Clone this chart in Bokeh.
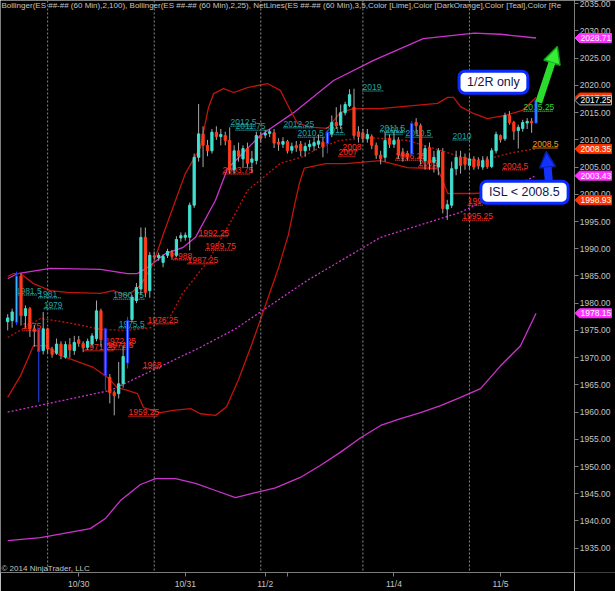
from bokeh.plotting import figure
from bokeh.layouts import row
from bokeh.models import (Range1d, FixedTicker, NumeralTickFormatter, Span, Label,
                          Arrow, NormalHead, ColumnDataSource)
from bokeh.embed import file_html
from bokeh.resources import INLINE
from bokeh.core.properties import value

FONT = "Liberation Sans"

# ES 60-minute bars, index 0..119 (oldest to newest)
bar_open = [1976.6, 1976.8, 1976.5, 1985.0, 1977.7, 1979.0, 1975.3, 1975.2, 1971.3, 1975.3,
            1971.6, 1970.8, 1972.5, 1970.1, 1972.4, 1971.3, 1973.3, 1972.6, 1971.9, 1972.5,
            1973.5, 1978.6, 1975.3, 1966.4, 1963.6, 1963.4, 1965.2, 1969.0, 1977.0, 1980.5,
            1982.6, 1992.1, 1982.3, 1988.7, 1988.4, 1987.5, 1988.8, 1989.3, 1988.8, 1992.0,
            1992.1, 1992.1, 1998.0, 2006.8, 2011.1, 2009.0, 2008.0, 2011.4, 2010.6, 2010.8,
            2009.9, 2004.5, 2008.0, 2006.5, 2008.4, 2005.9, 2006.2, 2010.8, 2010.9, 2011.2,
            2011.3, 2009.6, 2009.2, 2009.7, 2008.1, 2009.0, 2009.2, 2008.0, 2008.8, 2008.9,
            2009.2, 2009.6, 2009.3, 2011.1, 2013.2, 2012.7, 2015.0, 2016.3, 2016.0, 2011.5,
            2011.3, 2010.2, 2010.6, 2009.0, 2007.2, 2006.8, 2010.3, 2009.2, 2010.0, 2007.8,
            2007.5, 2007.4, 2013.2, 2012.6, 2006.2, 2008.6, 2005.9, 2005.0, 2007.8, 1997.3,
            1998.0, 2004.7, 2006.8, 2006.8, 2005.3, 2006.5, 2006.2, 2005.0, 2006.4, 2005.1,
            2008.0, 2010.8, 2010.2, 2014.5, 2013.2, 2011.7, 2012.1, 2013.1, 2013.4, 2013.1]
bar_high = [1978.0, 1979.0, 1985.8, 1985.5, 1979.6, 1979.3, 1976.0, 1975.5, 1978.4, 1975.5,
            1972.0, 1973.5, 1973.0, 1973.0, 1973.6, 1974.0, 1974.0, 1973.0, 1973.5, 1974.5,
            1980.5, 1979.0, 1975.5, 1967.0, 1964.0, 1969.2, 1972.2, 1977.5, 1981.5, 1983.7,
            1993.9, 1993.9, 1989.4, 1989.5, 1989.3, 1989.0, 1990.0, 1989.8, 1992.3, 1993.0,
            1993.0, 1998.5, 2007.5, 2016.6, 2012.5, 2010.0, 2012.0, 2012.5, 2012.0, 2011.5,
            2012.3, 2009.0, 2009.5, 2009.0, 2009.5, 2008.0, 2011.5, 2011.5, 2011.8, 2012.0,
            2012.0, 2010.3, 2010.5, 2010.0, 2009.5, 2009.8, 2009.8, 2009.5, 2010.0, 2010.5,
            2011.0, 2010.5, 2011.8, 2014.5, 2016.0, 2016.5, 2017.0, 2019.3, 2019.4, 2012.5,
            2012.0, 2012.0, 2011.0, 2009.5, 2008.0, 2011.5, 2011.0, 2011.5, 2010.5, 2008.5,
            2008.0, 2013.5, 2014.0, 2013.0, 2009.0, 2009.5, 2008.0, 2008.5, 2008.5, 1999.0,
            2006.0, 2008.0, 2008.0, 2007.5, 2007.5, 2007.0, 2006.8, 2007.0, 2007.0, 2008.5,
            2011.5, 2011.0, 2015.0, 2015.3, 2013.5, 2012.8, 2013.7, 2014.0, 2014.0, 2017.5]
bar_low = [1975.0, 1975.5, 1976.0, 1975.9, 1975.5, 1973.8, 1972.0, 1961.8, 1970.6, 1970.8,
           1970.0, 1970.5, 1969.7, 1969.8, 1970.0, 1970.5, 1972.0, 1971.0, 1971.5, 1972.0,
           1973.0, 1972.0, 1964.0, 1961.6, 1959.4, 1962.5, 1964.5, 1968.0, 1976.5, 1980.0,
           1981.5, 1981.1, 1981.0, 1988.0, 1987.8, 1986.6, 1988.3, 1988.0, 1988.5, 1991.3,
           1991.5, 1989.7, 1997.5, 2006.0, 2005.0, 2007.0, 2007.5, 2010.0, 2009.0, 2009.0,
           2003.75, 2003.8, 2006.0, 2004.8, 2005.0, 2004.0, 2005.5, 2009.5, 2010.3, 2010.5,
           2008.5, 2008.0, 2008.5, 2007.5, 2007.5, 2007.8, 2007.0, 2006.9, 2008.0, 2008.0,
           2008.5, 2006.8, 2007.5, 2010.5, 2012.0, 2012.0, 2014.5, 2016.0, 2010.3, 2009.5,
           2009.5, 2009.5, 2008.3, 2006.5, 2005.5, 2006.0, 2008.5, 2008.5, 2006.5, 2006.0,
           2006.2, 2007.0, 2011.0, 2005.5, 2004.5, 2004.5, 2004.0, 2003.5, 1996.5, 1995.3,
           1997.5, 2003.5, 2003.8, 2004.5, 2004.5, 2004.5, 2004.6, 2004.5, 2004.7, 2004.8,
           2007.5, 2009.5, 2009.8, 2012.8, 2010.0, 2008.4, 2011.5, 2012.0, 2011.3, 2013.0]
bar_close = [1977.3, 1978.4, 1985.0, 1977.7, 1979.0, 1975.3, 1974.8, 1971.1, 1975.3, 1971.6,
             1970.6, 1972.5, 1970.4, 1972.4, 1971.4, 1972.8, 1972.6, 1971.8, 1973.0, 1974.0,
             1978.6, 1973.3, 1966.7, 1963.6, 1963.0, 1965.2, 1970.2, 1976.8, 1981.1, 1982.9,
             1992.1, 1982.0, 1988.8, 1988.5, 1988.8, 1988.6, 1989.5, 1988.6, 1991.7, 1992.4,
             1992.5, 1998.0, 2006.8, 2011.1, 2009.0, 2008.0, 2011.4, 2010.6, 2011.0, 2009.9,
             2004.5, 2008.0, 2007.0, 2008.4, 2005.7, 2006.5, 2010.8, 2010.3, 2011.2, 2011.5,
             2009.4, 2009.2, 2009.7, 2008.0, 2008.8, 2008.5, 2008.0, 2008.8, 2009.2, 2009.5,
             2009.8, 2008.7, 2011.4, 2013.2, 2012.6, 2015.0, 2016.5, 2018.3, 2010.8, 2010.6,
             2010.3, 2011.0, 2009.0, 2007.2, 2006.5, 2009.9, 2009.2, 2009.9, 2007.2, 2007.0,
             2006.9, 2013.0, 2012.6, 2006.5, 2008.4, 2005.8, 2006.8, 2008.0, 1997.4, 1998.1,
             2004.7, 2006.8, 2005.3, 2005.5, 2006.5, 2005.0, 2005.2, 2006.2, 2005.1, 2008.0,
             2011.0, 2010.0, 2014.5, 2013.2, 2011.6, 2012.3, 2013.2, 2013.4, 2013.1, 2017.25]

# bars painted by the signal (blue outline)
signal_bars = [2, 7, 22, 27, 72, 91, 119]

# session starts and date ticks (bar index)
session_starts = [9, 33, 57, 80, 104]
date_ticks = [16, 40, 58, 63, 87, 111]
date_labels = ["10/30", "10/31", "11/2", "", "11/4", "11/5"]
price_ticks = list(range(1935, 2036, 5))

# Bollinger(100, 2)
bb100_up_x = [0, 2.2, 9.6, 20.9, 27, 29.2, 31.5, 35.5, 39.4, 42.3, 46.8, 49.5, 56.9, 64.4,
              73.4, 82.4, 93.6, 105.1, 111, 119]
bb100_up_y = [1984.5, 1985.45, 1986.4, 1986.2, 1985.45, 1985.45, 1986.55, 1989.1, 1990.2,
              1992.1, 1998.9, 2004.7, 2010.8, 2015.0, 2020.9, 2024.6, 2028.6, 2029.6, 2029.4,
              2028.71]
bb100_mid_x = [0, 23.2, 43.4, 51.3, 67.5, 84, 102, 109.1, 119]
bb100_mid_y = [1960.0, 1964.0, 1971.9, 1975.3, 1984.2, 1992.1, 1996.7, 1999.5, 2003.43]
bb100_lo_x = [0, 7.4, 18.6, 22, 25.4, 29.9, 33.3, 37.8, 42.3, 46.8, 51.3, 55.8, 60.3, 65.9,
              70.4, 74.9, 79.5, 84, 88.5, 93, 97.5, 102, 106.5, 111, 115.5, 119]
bb100_lo_y = [1936.4, 1936.95, 1938.6, 1940.45, 1943.75, 1946.7, 1947.8, 1947.8, 1946.9,
              1945.6, 1944.3, 1945.2, 1946.1, 1948.0, 1950.2, 1952.6, 1955.3, 1957.55,
              1958.8, 1959.9, 1961.2, 1962.7, 1964.3, 1968.5, 1972.2, 1978.15]

# Bollinger(25, 2)
bb25_up_x = [0, 1.3, 2.9, 5.8, 9.6, 13.5, 20.9, 23.8, 27, 29.9, 32.8, 35.1, 40, 43.4, 45.2,
             46.4, 48.6, 50.9, 54, 58.5, 61.4, 63.7, 65.3, 68.9, 72, 74.9, 77.9, 83.9, 96.8,
             99.1, 100.4, 102, 104.9, 108, 112.1, 115.9, 119]
bb25_up_y = [1984.9, 1985.45, 1985.45, 1983.6, 1982.3, 1982.0, 1981.8, 1982.3, 1981.4,
             1983.25, 1987.3, 1992.8, 2003.8, 2008.6, 2015.9, 2018.5, 2019.4, 2018.7, 2019.6,
             2020.35, 2019.1, 2015.4, 2013.0, 2012.3, 2012.1, 2015.0, 2015.75, 2015.75,
             2016.7, 2017.8, 2017.8, 2016.1, 2014.85, 2013.9, 2014.5, 2015.4, 2017.77]
bb25_mid_x = [0, 7.4, 13.5, 20.9, 27, 32.2, 36.7, 39.4, 45.2, 51.3, 54, 61.4, 65.9, 70.4,
              74.9, 81.7, 90, 97.5, 104.9, 108.7, 113.9, 119]
bb25_mid_y = [1973.7, 1977.2, 1976.45, 1975.2, 1975.0, 1975.5, 1977.7, 1981.8, 1987.85,
              1996.5, 2000.7, 2005.7, 2006.75, 2008.6, 2009.9, 2010.4, 2009.9, 2008.05,
              2006.2, 2006.6, 2007.7, 2008.35]
bb25_lo_x = [0, 2.9, 5.8, 8.5, 11.9, 19.3, 22.5, 24.7, 27, 29.2, 30.6, 34.4, 37.3, 41.2,
             43.4, 46.8, 49.3, 52, 55, 58, 61, 63.2, 64.6, 65.7, 66.8, 71.6, 76.1, 83.9, 90,
             96.8, 97.7, 99.1, 104.9, 108.7, 119]
bb25_lo_y = [1962.7, 1966.7, 1972.2, 1972.2, 1970.4, 1968.2, 1966.35, 1964.5, 1964.0, 1963.4,
             1960.8, 1959.9, 1960.3, 1960.65, 1959.7, 1959.4, 1961.0, 1966.0, 1972.5, 1979.5,
             1986.5, 1992.5, 1998.0, 2002.0, 2004.8, 2005.65, 2005.65, 2006.2, 2004.9,
             2004.7, 2003.1, 2000.15, 2000.15, 2000.3, 1998.93]

# NetLines levels: value, first bar, last bar
teal_val = [1981.5, 1981, 1979, 1980.75, 1975.5, 2012.5, 2011.75, 2012.25, 2010.5, 2011,
            2019, 2011.5, 2011, 2010.5, 2010]
teal_x0 = [1.8, 6.9, 8.1, 23.8, 25.0, 50.2, 51.3, 62.1, 65.3, 71.6, 79.9, 83.8, 85.1, 89.6, 100.2]
teal_x1 = [6.7, 12.0, 12.6, 31.0, 31.0, 55.8, 58.7, 68.9, 71.6, 76.1, 84.6, 90.0, 89.1, 95.7, 104.2]
red_val = [1975, 1972.25, 1971.25, 1971.5, 1976.25, 1968, 1959.25, 1992.25, 1989.75,
           1987.25, 1988, 2003.75, 2008, 2007, 2006.25, 2005, 2004.5, 1998, 1995.25]
red_x0 = [3.3, 22.0, 17.3, 22.5, 31.5, 30.4, 27.2, 43.0, 44.5, 40.5, 37.3, 48.4, 75.4, 74.5,
          87.3, 92.5, 111.4, 103.6, 102.4]
red_x1 = [7.4, 28.1, 23.8, 27.3, 37.8, 34.4, 33.7, 49.7, 50.9, 46.8, 41.2, 54.7, 79.0, 78.3,
          93.0, 96.8, 116.6, 107.2, 108.7]
target_val, target_x0, target_x1 = [2015.25], [116.2], [122.7]
stop_val, stop_x0, stop_x1 = [2008.5], [118.2], [123.8]

Y_MIN, Y_MAX = 1930.54, 2035.6
X_MIN, X_MAX = -1.62, 127.66
PLOT_H = 572
BG = "black"
AX = "#7c7c7c"
LAB = "#c4c4c4"

y_range = Range1d(Y_MIN, Y_MAX)
p = figure(width=574, height=591, x_range=Range1d(X_MIN, X_MAX), y_range=y_range,
           y_axis_location=None, toolbar_location=None, output_backend="svg",
           min_border_left=0, min_border_right=0, min_border_top=0, min_border_bottom=19,
           background_fill_color=BG, border_fill_color=BG, outline_line_color=None)
p.grid.visible = False

xa = p.xaxis[0]
xa.axis_line_color = AX
xa.major_tick_line_color = AX
xa.minor_tick_line_color = None
xa.major_tick_out = 4
xa.major_tick_in = 0
xa.major_label_text_color = LAB
xa.major_label_text_font = FONT
xa.major_label_text_font_size = "8.5px"
xa.ticker = FixedTicker(ticks=date_ticks, minor_ticks=[])
xa.major_label_overrides = {t: s for t, s in zip(date_ticks, date_labels)}
xa.major_label_standoff = 2

for s in session_starts:
    p.add_layout(Span(location=s, dimension="height", line_color="#8a8a8a",
                      line_dash="2 2", line_width=1))

# Bollinger bands
MAG = "#cc33cc"
DRED = "#c0140c"
p.line(bb100_up_x, bb100_up_y, line_color=MAG, line_width=1.3)
p.line(bb100_mid_x, bb100_mid_y, line_color=MAG, line_width=1.3, line_dash="2 2")
p.line(bb100_lo_x, bb100_lo_y, line_color=MAG, line_width=1.3)
p.line(bb25_up_x, bb25_up_y, line_color=DRED, line_width=1.3)
p.line(bb25_mid_x, bb25_mid_y, line_color=DRED, line_width=1.3, line_dash="2 2")
p.line(bb25_lo_x, bb25_lo_y, line_color=DRED, line_width=1.3)

# NetLines: dotted level with its price above
def levels(vals, x0s, x1s, color):
    src = ColumnDataSource(dict(x0=x0s, x1=x1s, y=vals, text=[f"{v:g}" for v in vals]))
    p.segment(x0="x0", y0="y", x1="x1", y1="y", line_color=color, line_width=1.5,
              line_dash="1 1", source=src)
    p.text(x="x0", y="y", text="text", text_color=color, text_font=value(FONT),
           text_font_size="8.5px", text_baseline="bottom", y_offset=-1, source=src)

levels(teal_val, teal_x0, teal_x1, "#22a3a3")
levels(red_val, red_x0, red_x1, "#ff2e22")
levels(target_val, target_x0, target_x1, "#2ed62e")
levels(stop_val, stop_x0, stop_x1, "#ff9a1a")

# candles
UP, DOWN = "#40e0d0", "#ff3a1a"
idx = list(range(len(bar_close)))
fills, edges, wicks = [], [], []
for i in idx:
    up = bar_close[i] >= bar_open[i]
    if i in signal_bars:
        fills.append("#38b4ff" if up else DOWN)
        edges.append("#1a34ff")
        wicks.append("#2a44ff")
    else:
        fills.append(UP if up else DOWN)
        edges.append(UP if up else DOWN)
        wicks.append("#a8a8a8")
csrc = ColumnDataSource(dict(x=idx, o=bar_open, h=bar_high, l=bar_low, c=bar_close,
                             top=[max(a, b) for a, b in zip(bar_open, bar_close)],
                             bot=[min(a, b) for a, b in zip(bar_open, bar_close)],
                             fill=fills, edge=edges, wick=wicks))
p.segment(x0="x", y0="l", x1="x", y1="h", line_color="wick", line_width=1, source=csrc)
p.vbar(x="x", width=0.5, top="top", bottom="bot", fill_color="fill", line_color="edge",
       line_width=1, source=csrc)

# trade annotations
p.add_layout(Arrow(x_start=119.6, y_start=2016.9, x_end=123.8, y_end=2027.15,
                   line_color="#2cdc2c", line_width=7,
                   end=NormalHead(size=17, fill_color="#36ee36", line_color="#18a018", line_width=1.5)))
p.add_layout(Arrow(x_start=121.9, y_start=2002.2, x_end=121.3, y_end=2007.9,
                   line_color="#1432ff", line_width=8,
                   end=NormalHead(size=16, fill_color="#1432ff", line_color="#0a1ca0", line_width=1.5)))
for tx, lx, ly in [("1/2R only", 109.4, 2020.6), ("ISL < 2008.5", 116.4, 2000.4)]:
    p.add_layout(Label(x=lx, y=ly, text=tx, text_align="center", text_baseline="middle",
                       text_font=FONT, text_font_size="12.5px", text_color="#141450",
                       background_fill_color="white", border_line_color="#0a2aff",
                       border_line_width=3, border_radius=6, padding=(8, 4)))

p.add_layout(Label(x=1, y=PLOT_H - 5, x_units="screen", y_units="screen",
                   text="Bollinger(ES ##-## (60 Min),2,100), Bollinger(ES ##-## (60 Min),2,25), "
                        "NetLines(ES ##-## (60 Min),3,5,Color [Lime],Color [DarkOrange],Color [Teal],Color [Re",
                   text_color=LAB, text_font=FONT, text_font_size="8px", text_baseline="middle"))
p.add_layout(Label(x=1, y=4, x_units="screen", y_units="screen", text="\u00a9 2014 NinjaTrader, LLC",
                   text_color=LAB, text_font=FONT, text_font_size="8px", text_baseline="middle"))

# price scale strip with the last-value markers
ps = figure(width=41, height=591, x_range=Range1d(0, 41), y_range=y_range,
            x_axis_location=None, y_axis_location="left", toolbar_location=None,
            output_backend="svg", min_border_left=0, min_border_right=0, min_border_top=0,
            min_border_bottom=19, background_fill_color=BG, border_fill_color=BG,
            outline_line_color=None)
ps.grid.visible = False
ya = ps.yaxis[0]
ya.ticker = FixedTicker(ticks=price_ticks, minor_ticks=[])
ya.formatter = NumeralTickFormatter(format="0.00")
ya.axis_line_color = AX
ya.major_tick_line_color = AX
ya.minor_tick_line_color = None
ya.major_tick_out = 0
ya.major_tick_in = 4
ya.major_label_text_color = LAB
ya.major_label_text_font = FONT
ya.major_label_text_font_size = "8.5px"
ya.major_label_standoff = -36

dh = 4.5 * (Y_MAX - Y_MIN) / PLOT_H
markers = [
    (bb100_up_y[-1], "#ff33ff", "#ff33ff"),
    (bb25_up_y[-1], "#ff3300", "#ff3300"),
    (bar_close[-1], "black", "#b8b8b8"),
    (bb25_mid_y[-1], "#ff3300", "#ff3300"),
    (bb100_mid_y[-1], "#ff33ff", "#ff33ff"),
    (bb25_lo_y[-1], "#ff3300", "#ff3300"),
    (bb100_lo_y[-1], "#ff33ff", "#ff33ff"),
]
for v, fill, edge in markers:
    r = ps.patch([0.5, 5, 37, 37, 5], [v, v + dh, v + dh, v - dh, v - dh],
                 fill_color=fill, line_color=edge, line_width=1)
    r.level = "overlay"
    t = ps.text([6], [v], text=[f"{v:.2f}"], text_color="white", text_font=value(FONT),
                text_font_size="8.5px", text_baseline="middle")
    t.level = "overlay"

open("out.html", "w").write(file_html(row(p, ps), INLINE))
